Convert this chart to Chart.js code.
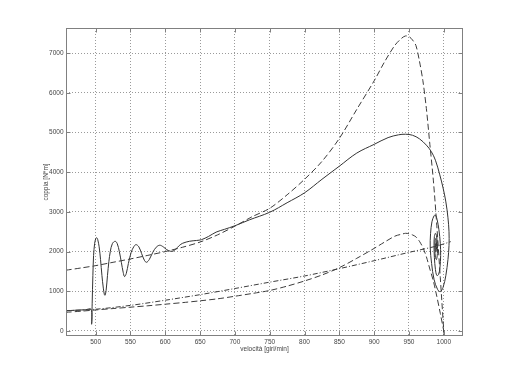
<!DOCTYPE html>
<html>
<head>
<meta charset="utf-8">
<script src="https://cdn.jsdelivr.net/npm/chart.js@4.4.0/dist/chart.umd.min.js"></script>
<style>html,body{margin:0;padding:0;background:#fff;overflow:hidden}canvas{display:block}</style>
</head>
<body>
<canvas id="c" width="512" height="379" style="width:512px;height:379px"></canvas>
<script>
// ---- data ----
const xTicks = [500, 550, 600, 650, 700, 750, 800, 850, 900, 950, 1000];
const yTicks = [0, 1000, 2000, 3000, 4000, 5000, 6000, 7000];
const xLimits = [457.4, 1027.6];
const yLimits = [-126, 7630];

// static torque curves (upper: delta, lower: star)
const staticSpeed = [457, 480, 500, 525, 550, 575, 600, 625, 650, 675, 700, 725, 750, 775, 800, 825, 850, 875, 900, 915, 930, 940, 945, 950, 955, 960, 965, 970, 975, 980, 985, 990, 995, 1000, 1000.5];
const deltaTorque = [1530, 1590, 1646, 1730, 1815, 1905, 2000, 2110, 2240, 2420, 2640, 2880, 3090, 3430, 3820, 4270, 4850, 5580, 6300, 6780, 7200, 7380, 7430, 7415, 7330, 7190, 6800, 6300, 5600, 4700, 3800, 2650, 1340, 0, -126];
const starTorque = [470, 500, 530, 565, 600, 635, 675, 715, 760, 810, 875, 945, 1020, 1130, 1260, 1410, 1595, 1830, 2080, 2240, 2390, 2440, 2460, 2450, 2420, 2370, 2260, 2100, 1870, 1560, 1260, 870, 445, 0, -42];

// load torque (dash-dot)
const loadSpeed = [457, 500, 550, 600, 650, 700, 750, 800, 850, 900, 950, 990, 1010];
const loadTorque = [510, 548, 645, 775, 915, 1070, 1230, 1385, 1570, 1770, 1980, 2140, 2250];

// dynamic trajectory (solid)
const dynSpeed = [457, 470, 485, 493.5, 494.2, 495, 496, 497, 498.5, 500, 501.5, 503, 505, 507, 509, 511, 512.5, 513.5, 515, 517, 519, 521, 524, 528, 531, 534, 537, 539.5, 541.5, 544, 547, 551, 555, 558, 562, 566, 570, 573, 577, 582, 587, 592, 597, 602, 607, 611, 615, 620, 625, 635, 645, 652, 662, 673, 685, 700, 721, 750, 775, 800, 825, 850, 875, 900, 920, 935, 945, 955, 965, 975, 982, 988, 994, 999, 1003, 1006, 1007.5, 1007.5, 1006, 1003, 999, 995, 991, 986, 982.5, 980.5, 981, 983, 986, 988, 990.5, 993, 995, 995.5, 994.5, 992.5, 990, 988, 986.5, 986, 986.5, 988, 989.5, 990.8, 990.8, 989.5, 988, 987.3, 987.6, 988.6, 989.6, 989.5, 988.8, 988.2, 988.5, 989, 988.8];
const dynTorque = [510, 522, 535, 545, 170, 700, 1400, 1900, 2200, 2320, 2350, 2300, 2120, 1800, 1400, 1080, 920, 900, 1020, 1400, 1750, 2000, 2200, 2260, 2200, 2000, 1720, 1480, 1370, 1450, 1700, 1980, 2130, 2175, 2120, 1950, 1780, 1730, 1800, 1980, 2110, 2160, 2120, 2050, 2010, 2010, 2060, 2150, 2210, 2260, 2280, 2300, 2380, 2490, 2560, 2650, 2800, 2990, 3230, 3480, 3820, 4150, 4480, 4700, 4870, 4940, 4955, 4930, 4840, 4680, 4520, 4300, 3950, 3600, 3250, 2850, 2500, 2150, 1800, 1400, 1100, 990, 1050, 1300, 1700, 2100, 2450, 2750, 2900, 2920, 2800, 2550, 2200, 1900, 1600, 1420, 1400, 1550, 1850, 2150, 2380, 2460, 2400, 2200, 1950, 1800, 1850, 2050, 2280, 2330, 2220, 2050, 2000, 2100, 2200, 2180, 2140];

// ---- build chart ----
const pts = (xs, ys) => xs.map((x, i) => ({x: x, y: ys[i]}));
const lineCol = '#3c3c3c';
const fontFam = "'Liberation Sans', Arial, sans-serif";

const framePlugin = {
  id: 'frame',
  afterDraw(chart) {
    const {ctx, chartArea: a, scales: {x, y}} = chart;
    ctx.save();
    ctx.setLineDash([]);
    ctx.strokeStyle = '#808080';
    ctx.lineWidth = 1;
    const L = Math.round(a.left) + 0.5, R = Math.round(a.right) - 0.5;
    const T = Math.round(a.top) + 0.5, B = Math.round(a.bottom) - 0.5;
    ctx.strokeRect(L, T, R - L, B - T);
    ctx.beginPath();
    xTicks.forEach(v => {
      const px = Math.round(x.getPixelForValue(v)) + 0.5;
      ctx.moveTo(px, B); ctx.lineTo(px, B - 4);
      ctx.moveTo(px, T); ctx.lineTo(px, T + 4);
    });
    yTicks.forEach(v => {
      const py = Math.round(y.getPixelForValue(v)) + 0.5;
      ctx.moveTo(L, py); ctx.lineTo(L + 4, py);
      ctx.moveTo(R, py); ctx.lineTo(R - 4, py);
    });
    ctx.stroke();
    ctx.restore();
  }
};

new Chart(document.getElementById('c'), {
  type: 'scatter',
  data: {
    datasets: [
      {data: pts(staticSpeed, deltaTorque), showLine: true, borderColor: lineCol, borderWidth: 1, borderDash: [6, 3], pointRadius: 0, tension: 0.3},
      {data: pts(staticSpeed, starTorque), showLine: true, borderColor: lineCol, borderWidth: 1, borderDash: [6, 3], pointRadius: 0, tension: 0.3},
      {data: pts(loadSpeed, loadTorque), showLine: true, borderColor: lineCol, borderWidth: 1, borderDash: [5, 2, 1, 2], pointRadius: 0, tension: 0.3},
      {data: pts(dynSpeed, dynTorque), showLine: true, borderColor: '#333', borderWidth: 1, pointRadius: 0, tension: 0.35}
    ]
  },
  options: {
    responsive: false,
    animation: false,
    devicePixelRatio: 1,
    layout: {padding: {left: 0, top: 28, right: 49, bottom: 0}},
    plugins: {legend: {display: false}, tooltip: {enabled: false}},
    scales: {
      x: {
        type: 'linear', min: xLimits[0], max: xLimits[1],
        afterBuildTicks: s => { s.ticks = xTicks.map(v => ({value: v})); },
        afterFit: s => { s.height = 43; },
        grid: {color: '#9a9a9a', lineWidth: 1, drawTicks: false},
        border: {display: false, dash: [1, 2]},
        ticks: {padding: 2.5, color: '#444', font: {family: fontFam, size: 6.5}, maxRotation: 0, autoSkip: false, callback: v => String(v)},
        title: {display: true, text: 'velocità [giri/min]', color: '#444', font: {family: fontFam, size: 6.5}, padding: {top: 0, bottom: 25.5}}
      },
      y: {
        type: 'linear', min: yLimits[0], max: yLimits[1],
        afterBuildTicks: s => { s.ticks = yTicks.map(v => ({value: v})); },
        afterFit: s => { s.width = 66; },
        grid: {color: '#9a9a9a', lineWidth: 1, drawTicks: false},
        border: {display: false, dash: [1, 2]},
        ticks: {padding: 2.5, color: '#444', font: {family: fontFam, size: 6.5}, autoSkip: false, callback: v => String(v)},
        title: {display: true, text: 'coppia [N*m]', color: '#444', font: {family: fontFam, size: 6.5}, padding: {top: 42.5, bottom: 0}}
      }
    }
  },
  plugins: [framePlugin]
});
</script>
</body>
</html>
